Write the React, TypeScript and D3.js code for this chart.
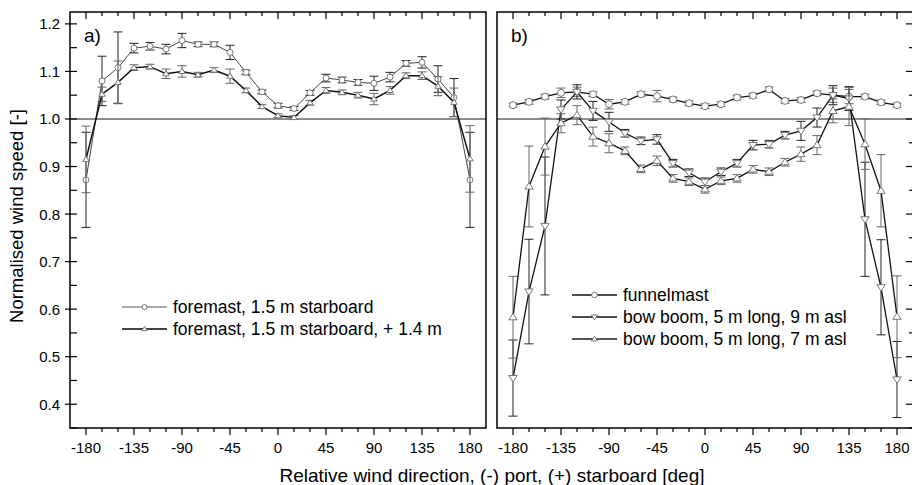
import React from 'react';
import * as d3 from 'd3';

const angles = [-180, -165, -150, -135, -120, -105, -90, -75, -60, -45, -30, -15, 0, 15, 30, 45, 60, 75, 90, 105, 120, 135, 150, 165, 180];

// panel a
const foremastVal = [0.872, 1.080, 1.108, 1.149, 1.153, 1.147, 1.165, 1.157, 1.157, 1.140, 1.098, 1.057, 1.028, 1.022, 1.055, 1.086, 1.082, 1.077, 1.075, 1.088, 1.117, 1.119, 1.084, 1.045, 0.872];
const foremastErr = [0.1, 0.052, 0.075, 0.01, 0.008, 0.01, 0.015, 0.005, 0.005, 0.015, 0.005, 0.004, 0.005, 0.004, 0.005, 0.008, 0.006, 0.006, 0.015, 0.01, 0.006, 0.012, 0.028, 0.04, 0.1];
const foremastHiVal = [0.915, 1.052, 1.077, 1.108, 1.110, 1.095, 1.100, 1.093, 1.103, 1.090, 1.060, 1.026, 1.007, 1.003, 1.034, 1.060, 1.056, 1.050, 1.042, 1.060, 1.091, 1.091, 1.069, 1.035, 0.916];
const foremastHiErr = [0.07, 0.015, 0.045, 0.006, 0.005, 0.01, 0.012, 0.005, 0.005, 0.015, 0.005, 0.004, 0.004, 0.004, 0.005, 0.006, 0.005, 0.006, 0.012, 0.008, 0.006, 0.008, 0.02, 0.03, 0.07];

// panel b
const funnelVal = [1.029, 1.036, 1.047, 1.055, 1.057, 1.052, 1.031, 1.036, 1.052, 1.048, 1.041, 1.033, 1.027, 1.031, 1.045, 1.049, 1.062, 1.038, 1.040, 1.054, 1.050, 1.047, 1.047, 1.035, 1.029];
const funnelErr = [0.004, 0.005, 0.005, 0.01, 0.01, 0.005, 0.01, 0.005, 0.005, 0.012, 0.005, 0.005, 0.005, 0.005, 0.005, 0.005, 0.005, 0.005, 0.005, 0.005, 0.015, 0.015, 0.005, 0.005, 0.004];
const boom9Val = [0.455, 0.637, 0.775, 1.020, 1.057, 1.017, 0.994, 0.970, 0.954, 0.957, 0.907, 0.887, 0.868, 0.889, 0.907, 0.945, 0.947, 0.966, 0.975, 1.003, 1.050, 1.043, 0.789, 0.646, 0.452];
const boom9Err = [0.08, 0.11, 0.145, 0.02, 0.015, 0.02, 0.02, 0.008, 0.008, 0.01, 0.008, 0.008, 0.008, 0.008, 0.008, 0.01, 0.008, 0.008, 0.02, 0.02, 0.02, 0.025, 0.12, 0.1, 0.08];
const boom7Val = [0.583, 0.858, 0.942, 0.991, 1.008, 0.963, 0.949, 0.933, 0.895, 0.912, 0.875, 0.868, 0.852, 0.870, 0.875, 0.894, 0.889, 0.909, 0.926, 0.945, 1.017, 1.026, 0.947, 0.849, 0.584];
const boom7Err = [0.086, 0.085, 0.06, 0.02, 0.02, 0.02, 0.02, 0.008, 0.008, 0.01, 0.008, 0.008, 0.008, 0.008, 0.008, 0.008, 0.008, 0.008, 0.015, 0.02, 0.025, 0.04, 0.053, 0.076, 0.086];

const xTickLabels = [-180, -135, -90, -45, 0, 45, 90, 135, 180];
const yTickLabels = [0.4, 0.5, 0.6, 0.7, 0.8, 0.9, 1.0, 1.1, 1.2];

const font = 'Liberation Sans, Arial, sans-serif';
const top = 12;
const bottom = 428;

const y = d3.scaleLinear().domain([0.35, 1.225]).range([bottom, top]);
const xA = d3.scaleLinear().domain([-195, 195]).range([70, 486]);
const xB = d3.scaleLinear().domain([-195, 195]).range([497, 913]);

type Series = { vals: number[]; errs: number[]; marker: 'circle' | 'up' | 'down'; line: string; lw: number; bar: string; size: number };

const Marker = ({ kind, cx, cy, s }: { kind: string; cx: number; cy: number; s: number }) => {
  if (kind === 'circle') return <circle cx={cx} cy={cy} r={s} fill="#fff" stroke="#777" strokeWidth={1} />;
  const h = s * 1.7;
  const w = s * 1.1;
  const pts = kind === 'up'
    ? [[cx, cy - h * 0.6], [cx - w, cy + h * 0.4], [cx + w, cy + h * 0.4]]
    : [[cx, cy + h * 0.6], [cx - w, cy - h * 0.4], [cx + w, cy - h * 0.4]];
  return <polygon points={pts.map(p => p.join(',')).join(' ')} fill="#fff" stroke="#777" strokeWidth={1} />;
};

const SeriesG = ({ s, x }: { s: Series; x: d3.ScaleLinear<number, number> }) => {
  const line = d3.line<number>().x((_, i) => x(angles[i])).y(v => y(v));
  return (
    <g>
      {s.vals.map((v, i) => {
        const cx = x(angles[i]);
        const y1 = y(v - s.errs[i]);
        const y2 = y(v + s.errs[i]);
        return (
          <g key={i} stroke={s.bar} strokeWidth={1}>
            <line x1={cx} x2={cx} y1={y1} y2={y2} />
            <line x1={cx - 4.5} x2={cx + 4.5} y1={y1} y2={y1} />
            <line x1={cx - 4.5} x2={cx + 4.5} y1={y2} y2={y2} />
          </g>
        );
      })}
      <path d={line(s.vals) || ''} fill="none" stroke={s.line} strokeWidth={s.lw} />
      {s.vals.map((v, i) => (
        <Marker key={i} kind={s.marker} cx={x(angles[i])} cy={y(v)} s={s.size} />
      ))}
    </g>
  );
};

const minorX = angles; // every 15 deg
const minorY = d3.range(0.35, 1.226, 0.05).map(v => +v.toFixed(2));

const Panel = ({ x, label, leftAxis, rightAxis, series, legend, legendPos }: any) => {
  const [x0, x1] = x.range();
  return (
    <g>
      <line x1={x0} x2={x1} y1={y(1)} y2={y(1)} stroke="#666" strokeWidth={1.5} />
      {series.map((s: Series, i: number) => <SeriesG key={i} s={s} x={x} />)}
      {minorX.map(a => {
        const major = a % 45 === 0;
        const len = major ? 7 : 4;
        return (
          <g key={a} stroke="#000" strokeWidth={1.2}>
            <line x1={x(a)} x2={x(a)} y1={bottom} y2={bottom + len} />
            <line x1={x(a)} x2={x(a)} y1={top} y2={top + len} />
          </g>
        );
      })}
      {xTickLabels.map(a => (
        <text key={a} x={x(a)} y={453} textAnchor="middle" fontSize={15} fontFamily={font}>{a}</text>
      ))}
      {leftAxis && minorY.map(v => {
        const major = Math.round(v * 100) % 10 === 0;
        return (
          <g key={v} stroke="#000" strokeWidth={1.2}>
            <line x1={x0} x2={x0 + 7} y1={y(v)} y2={y(v)} />
            {major && <line x1={x0 - 5} x2={x0} y1={y(v)} y2={y(v)} />}
          </g>
        );
      })}
      {leftAxis && yTickLabels.map(v => (
        <text key={v} x={x0 - 10} y={y(v) + 5.5} textAnchor="end" fontSize={15} fontFamily={font}>{v.toFixed(1)}</text>
      ))}
      {rightAxis && minorY.map(v => {
        const major = Math.round(v * 100) % 10 === 0;
        return <line key={v} x1={x1 - (major ? 7 : 4)} x2={x1} y1={y(v)} y2={y(v)} stroke="#000" strokeWidth={1.2} />;
      })}
      <rect x={x0} y={top} width={x1 - x0} height={bottom - top} fill="none" stroke="#000" strokeWidth={1.5} />
      <text x={x0 + 14} y={42} fontSize={19} fontFamily={font}>{label}</text>
      {legend.map((l: any, i: number) => {
        const ly = legendPos[1] + i * 22;
        const lx = legendPos[0];
        return (
          <g key={i}>
            <line x1={lx} x2={lx + 45} y1={ly} y2={ly} stroke={l.line} strokeWidth={l.lw} />
            <Marker kind={l.marker} cx={lx + 22.5} cy={ly} s={l.size} />
            <text x={lx + 51} y={ly + 6.3} fontSize={17.5} fontFamily={font}>{l.text}</text>
          </g>
        );
      })}
    </g>
  );
};

export default function App() {
  const seriesA: Series[] = [
    { vals: foremastVal, errs: foremastErr, marker: 'circle', line: '#444', lw: 1, bar: '#222', size: 3 },
    { vals: foremastHiVal, errs: foremastHiErr, marker: 'up', line: '#111', lw: 1.5, bar: '#666', size: 3 },
  ];
  const seriesB: Series[] = [
    { vals: funnelVal, errs: funnelErr, marker: 'circle', line: '#111', lw: 1.3, bar: '#666', size: 3.5 },
    { vals: boom9Val, errs: boom9Err, marker: 'down', line: '#111', lw: 1.3, bar: '#222', size: 3.8 },
    { vals: boom7Val, errs: boom7Err, marker: 'up', line: '#111', lw: 1.3, bar: '#666', size: 3.8 },
  ];
  const legendA = [
    { text: 'foremast, 1.5 m starboard', marker: 'circle', line: '#555', lw: 1, size: 2.5 },
    { text: 'foremast, 1.5 m starboard, + 1.4 m', marker: 'up', line: '#444', lw: 2, size: 2.5 },
  ];
  const legendB = [
    { text: 'funnelmast', marker: 'circle', line: '#111', lw: 1.3, size: 2.8 },
    { text: 'bow boom, 5 m long, 9 m asl', marker: 'down', line: '#111', lw: 1.3, size: 2.8 },
    { text: 'bow boom, 5 m long, 7 m asl', marker: 'up', line: '#555', lw: 2, size: 2.8 },
  ];
  return (
    <svg width={912} height={485} style={{ position: 'absolute', left: 0, top: 0, background: '#fff' }}>
      <rect width={912} height={485} fill="#fff" />
      <Panel x={xA} label="a)" leftAxis series={seriesA} legend={legendA} legendPos={[122, 307]} />
      <Panel x={xB} label="b)" rightAxis series={seriesB} legend={legendB} legendPos={[572, 295]} />
      <text transform={`translate(23,216) rotate(-90)`} textAnchor="middle" fontSize={18.5} fontFamily={font}>Normalised wind speed [-]</text>
      <text x={492} y={482} textAnchor="middle" fontSize={19} fontFamily={font}>Relative wind direction, (-) port, (+) starboard [deg]</text>
    </svg>
  );
}
